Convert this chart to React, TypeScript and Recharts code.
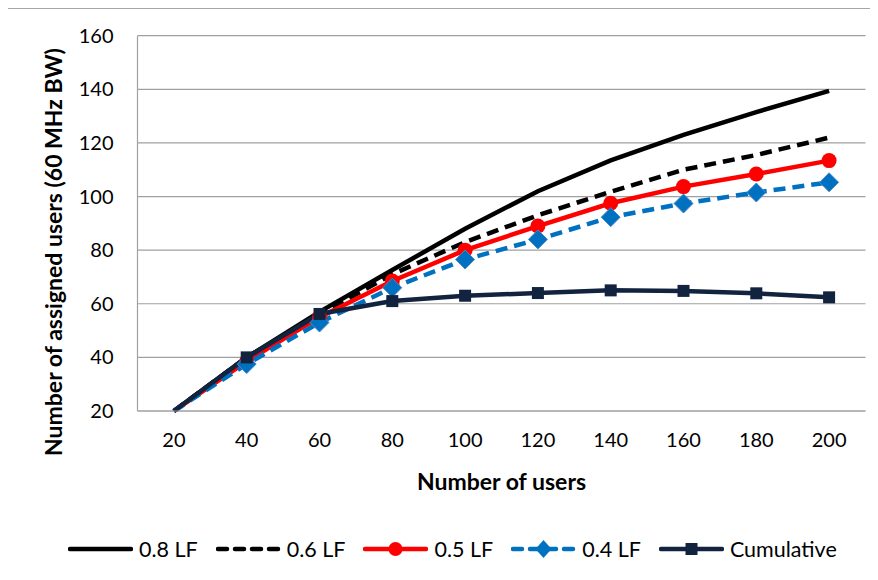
import { CartesianGrid, Label, Legend, Line, LineChart, XAxis, YAxis } from "recharts";

const users = [20, 40, 60, 80, 100, 120, 140, 160, 180, 200];
const lf08 = [20, 40, 57, 72.6, 88, 102, 113.5, 123, 131.5, 139.4];
const lf06 = [20, 40, 56, 71, 83, 93, 101.8, 110, 115.5, 122];
const lf05 = [20, 38.5, 55, 68.5, 80, 89, 97.5, 103.7, 108.4, 113.4];
const lf04 = [20, 37.5, 53, 66, 76.5, 84, 92.3, 97.4, 101.5, 105.3];
const cumulative = [20, 40, 56.2, 61, 63, 64, 65, 64.8, 63.9, 62.4];
const yTicks = [20, 40, 60, 80, 100, 120, 140, 160];

const data = users.map((u, i) => ({
  users: u,
  lf08: lf08[i],
  lf06: lf06[i],
  lf05: lf05[i],
  lf04: lf04[i],
  cumulative: cumulative[i],
}));

const FONT = "Lato, 'Open Sans', sans-serif";
const RED = "#ff0000";
const BLUE = "#0070c0";
const NAVY = "#12233f";

// Excel leaves the first point of each series without a marker
const Circle = (props: any) => {
  const { cx, cy, index } = props;
  if (cx == null || cy == null || index === 0) return null;
  return <circle key={`c-${index}`} cx={cx} cy={cy} r={7.5} fill={RED} />;
};

const Diamond = (props: any) => {
  const { cx, cy, index } = props;
  if (cx == null || cy == null || index === 0) return null;
  const s = 9.5;
  return (
    <polygon
      key={`d-${index}`}
      points={`${cx},${cy - s} ${cx + s},${cy} ${cx},${cy + s} ${cx - s},${cy}`}
      fill={BLUE}
      stroke="#4a86c8"
      strokeWidth={1}
    />
  );
};

const Square = (props: any) => {
  const { cx, cy, index } = props;
  if (cx == null || cy == null || index === 0) return null;
  return <rect key={`s-${index}`} x={cx - 6} y={cy - 6} width={12} height={12} fill={NAVY} />;
};

const legendItems = [
  { name: "0.8 LF", color: "#000", dash: undefined, marker: "none" },
  { name: "0.6 LF", color: "#000", dash: "9 8", marker: "none" },
  { name: "0.5 LF", color: RED, dash: undefined, marker: "circle" },
  { name: "0.4 LF", color: BLUE, dash: "9 8", marker: "diamond" },
  { name: "Cumulative", color: NAVY, dash: undefined, marker: "square" },
];

function LegendContent() {
  return (
    <div style={{ display: "flex", alignItems: "center", gap: 18, height: 24, paddingLeft: 60 }}>
      {legendItems.map((it) => (
        <div key={it.name} style={{ display: "flex", alignItems: "center", gap: 6 }}>
          <svg width={65} height={20}>
            <line x1={2} y1={10} x2={63} y2={10} stroke={it.color} strokeWidth={4.5} strokeDasharray={it.dash} strokeLinecap="round" />
            {it.marker === "circle" && <circle cx={32.5} cy={10} r={7} fill={RED} />}
            {it.marker === "diamond" && <polygon points="32.5,1 40.5,10 32.5,19 24.5,10" fill={BLUE} />}
            {it.marker === "square" && <rect x={26.5} y={4} width={12} height={12} fill={NAVY} />}
          </svg>
          <span style={{ fontFamily: FONT, fontSize: 21.5, color: "#000", lineHeight: "24px" }}>{it.name}</span>
        </div>
      ))}
    </div>
  );
}

export default function App() {
  return (
    <div style={{ marginLeft: -1, width: 871, height: 572, overflow: "hidden" }}>
      <div
        style={{
          width: 900,
          height: 620,
          borderTop: "1px solid #a6a6a6",
          borderLeft: "1px solid #a6a6a6",
          background: "#fff",
        }}
      >
        <LineChart
          width={864}
          height={566}
          data={data}
          margin={{ top: 26.7, right: 6.5, left: 0, bottom: 0 }}
        >
          <CartesianGrid vertical={false} stroke="#a0a0a0" strokeWidth={1.2} />
          <XAxis
            dataKey="users"
            type="category"
            height={164}
            padding={{ left: 36.4, right: 36.4 }}
            axisLine={{ stroke: "#a0a0a0", strokeWidth: 1.2 }}
            tickLine={false}
            tickSize={0}
            tickMargin={22}
            tick={{ fill: "#000", fontSize: 20, fontFamily: FONT }}
          >
            <Label
              content={({ viewBox }: any) => (
                <text
                  x={viewBox.x + viewBox.width / 2}
                  y={viewBox.y + 70}
                  textAnchor="middle"
                  dominantBaseline="central"
                  fontFamily={FONT}
                  fontSize={23}
                  fontWeight="bold"
                  fill="#000"
                >
                  Number of users
                </text>
              )}
            />
          </XAxis>
          <YAxis
            width={129.5}
            domain={[20, 160]}
            ticks={yTicks}
            interval={0}
            axisLine={{ stroke: "#a0a0a0", strokeWidth: 1.2 }}
            tickLine={false}
            tickSize={0}
            tickMargin={24}
            tick={{ fill: "#000", fontSize: 20, fontFamily: FONT }}
          >
            <Label
              content={() => {
                const x = 45;
                const y = 243;
                return (
                  <text
                    x={x}
                    y={y}
                    transform={`rotate(-90 ${x} ${y})`}
                    textAnchor="middle"
                    dominantBaseline="central"
                    fontFamily={FONT}
                    fontSize={23}
                    fontWeight="bold"
                    fill="#000"
                  >
                    Number of assigned users (60 MHz BW)
                  </text>
                );
              }}
            />
          </YAxis>
          <Legend
            layout="horizontal"
            verticalAlign="middle"
            align="center"
            content={LegendContent}
            wrapperStyle={{ top: 528, left: 0, width: 864, height: 24 }}
          />
          <Line dataKey="lf08" stroke="#000" strokeWidth={4.5} dot={false} isAnimationActive={false} />
          <Line dataKey="lf06" stroke="#000" strokeWidth={4.5} strokeDasharray="12 7" dot={false} isAnimationActive={false} />
          <Line dataKey="lf05" stroke={RED} strokeWidth={4.5} dot={Circle} isAnimationActive={false} />
          <Line dataKey="lf04" stroke={BLUE} strokeWidth={4.5} strokeDasharray="12 7" dot={Diamond} isAnimationActive={false} />
          <Line dataKey="cumulative" stroke={NAVY} strokeWidth={4.5} dot={Square} isAnimationActive={false} />
        </LineChart>
      </div>
    </div>
  );
}
